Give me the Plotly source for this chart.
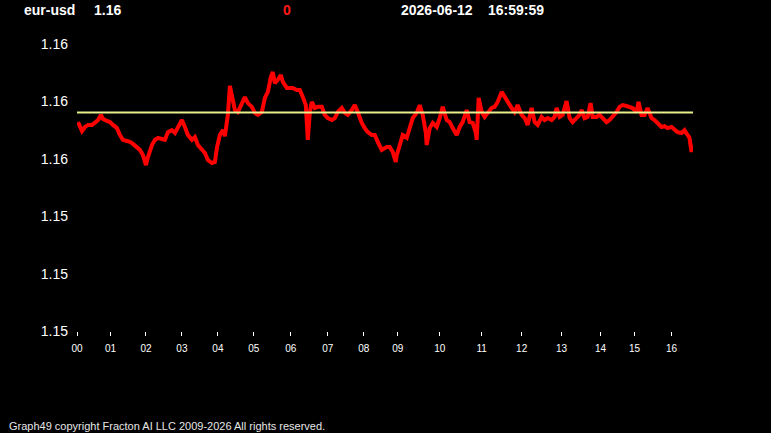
import plotly.graph_objects as go

# ---- data ----
symbol = "eur-usd"
last_price = "1.16"
change = "0"
stamp_date = "2026-06-12"
stamp_time = "16:59:59"
copyright_text = "Graph49 copyright Fracton AI LLC 2009-2026 All rights reserved."

seq = [1, 3, 5, 8, 11, 15, 18, 21, 24, 26, 30, 33, 36, 40, 43, 46, 50, 53, 56, 60,
       63, 66, 69, 71, 75, 78, 81, 85, 88, 91, 95, 98, 101, 105, 108, 111, 115, 118, 121, 125,
       128, 131, 135, 138, 140, 143, 146, 148, 150, 151, 153, 155, 158, 161, 165, 168, 171, 175, 178, 181,
       185, 188, 191, 194, 196, 198, 201, 204, 206, 210, 213, 216, 220, 223, 226, 229, 231, 233, 235, 238,
       241, 245, 248, 251, 255, 258, 261, 265, 268, 271, 275, 278, 281, 285, 288, 291, 295, 298, 301, 305,
       310, 313, 316, 319, 320, 323, 326, 330, 333, 336, 340, 343, 346, 349, 350, 353, 356, 360, 363, 366,
       370, 373, 376, 380, 383, 386, 390, 393, 396, 399, 400, 402, 405, 408, 411, 415, 418, 421, 425, 428,
       431, 435, 438, 441, 445, 448, 451, 455, 458, 461, 465, 468, 471, 475, 478, 480, 483, 486, 490, 493,
       496, 500, 503, 505, 508, 511, 514, 516, 520, 523, 526, 530, 533, 536, 540, 543, 546, 550, 553, 556,
       560, 562, 565, 568, 571, 575, 578, 581, 585, 588, 591, 595, 598, 601, 605, 608, 611, 613, 615, 616]

price = [1.15728, 1.15714, 1.15697, 1.15711, 1.15718, 1.15718, 1.15725, 1.15735, 1.15753, 1.15739,
         1.15732, 1.15728, 1.15718, 1.15707, 1.15683, 1.15666, 1.15662, 1.15659, 1.15652, 1.15641,
         1.15631, 1.15613, 1.15578, 1.15606, 1.15648, 1.15666, 1.15673, 1.15669, 1.15666, 1.15693,
         1.15700, 1.15690, 1.15711, 1.15735, 1.15711, 1.15683, 1.15666, 1.15676, 1.15648, 1.15631,
         1.15620, 1.15596, 1.15585, 1.15589, 1.15638, 1.15683, 1.15700, 1.15679, 1.15718, 1.15753,
         1.15854, 1.15812, 1.15770, 1.15763, 1.15798, 1.15815, 1.15794, 1.15781, 1.15760, 1.15753,
         1.15763, 1.15812, 1.15833, 1.15885, 1.15902, 1.15864, 1.15875, 1.15892, 1.15868, 1.15847,
         1.15847, 1.15847, 1.15840, 1.15840, 1.15815, 1.15787, 1.15666, 1.15763, 1.15798, 1.15777,
         1.15781, 1.15781, 1.15753, 1.15742, 1.15735, 1.15742, 1.15763, 1.15777, 1.15760, 1.15753,
         1.15770, 1.15787, 1.15763, 1.15725, 1.15707, 1.15693, 1.15683, 1.15683, 1.15659, 1.15631,
         1.15641, 1.15641, 1.15624, 1.15589, 1.15613, 1.15648, 1.15683, 1.15673, 1.15711, 1.15742,
         1.15760, 1.15787, 1.15753, 1.15693, 1.15648, 1.15707, 1.15725, 1.15711, 1.15742, 1.15781,
         1.15735, 1.15728, 1.15707, 1.15683, 1.15711, 1.15728, 1.15770, 1.15728, 1.15725, 1.15693,
         1.15666, 1.15812, 1.15763, 1.15746, 1.15760, 1.15777, 1.15781, 1.15798, 1.15833, 1.15815,
         1.15798, 1.15777, 1.15763, 1.15787, 1.15753, 1.15742, 1.15718, 1.15777, 1.15728, 1.15718,
         1.15746, 1.15735, 1.15742, 1.15735, 1.15746, 1.15777, 1.15746, 1.15753, 1.15801, 1.15742,
         1.15728, 1.15742, 1.15753, 1.15770, 1.15742, 1.15746, 1.15794, 1.15746, 1.15746, 1.15753,
         1.15742, 1.15728, 1.15735, 1.15746, 1.15763, 1.15781, 1.15787, 1.15784, 1.15781, 1.15777,
         1.15763, 1.15798, 1.15753, 1.15753, 1.15777, 1.15742, 1.15735, 1.15725, 1.15711, 1.15714,
         1.15707, 1.15711, 1.15700, 1.15693, 1.15690, 1.15700, 1.15683, 1.15673, 1.15624, 1.15648]

ref_level = 1.15761
ref_span = [0, 617]

hour_labels = ["00", "01", "02", "03", "04", "05", "06", "07", "08", "09",
               "10", "11", "12", "13", "14", "15", "16"]
hour_seq = [0, 33.5, 69, 105, 141, 177, 214, 251, 287, 321,
            363, 405, 445, 485, 524, 558, 595]

y_ticks = [1.150, 1.152, 1.154, 1.156, 1.158, 1.160]
y_range = [1.150, 1.160]
x_range = [0, 616.5]

# ---- layout geometry ----
W, H = 771, 433
ML, MR, MT, MB = 77, 77.5, 44, 102
PW, PH = W - ML - MR, H - MT - MB

def px_x(px):
    return (px - ML) / PW

def px_y(py):
    return (H - MB - py) / PH

FONT = "Liberation Sans, Arial, sans-serif"

fig = go.Figure()
fig.add_trace(go.Scatter(x=seq, y=price, mode="lines",
                         line=dict(color="#ff0000", width=4), hoverinfo="skip"))
fig.add_trace(go.Scatter(x=ref_span, y=[ref_level, ref_level], mode="lines",
                         line=dict(color="#e8f08c", width=2), hoverinfo="skip"))

annos = [
    (symbol, 22, "#ffffff"),
    (last_price, 92, "#ffffff"),
    (change, 281, "#ff1a1a"),
    (stamp_date, 399, "#ffffff"),
    (stamp_time, 486, "#ffffff"),
]
for txt, px, col in annos:
    fig.add_annotation(text="<b>" + txt + "</b>", xref="paper", yref="paper",
                       x=px_x(px), y=px_y(10), xanchor="left", yanchor="middle",
                       showarrow=False, font=dict(family=FONT, size=14, color=col))

fig.add_annotation(text=copyright_text, xref="paper", yref="paper",
                   x=px_x(7), y=px_y(426), xanchor="left", yanchor="middle",
                   showarrow=False, font=dict(family=FONT, size=11, color="#e6e6e6"))

fig.update_layout(
    width=W, height=H,
    margin=dict(l=ML, r=MR, t=MT, b=MB, pad=0),
    paper_bgcolor="#000000", plot_bgcolor="#000000",
    showlegend=False,
    xaxis=dict(range=x_range, tickvals=hour_seq, ticktext=hour_labels,
               showgrid=False, zeroline=False, showline=False,
               ticks="outside", ticklen=4, tickwidth=1, tickcolor="#ffffff",
               tickfont=dict(family=FONT, size=10, color="#ffffff"),
               ticklabelstandoff=4, fixedrange=True),
    yaxis=dict(range=y_range, tickvals=y_ticks, tickformat=".2f",
               showgrid=False, zeroline=False, showline=False,
               ticks="", tickfont=dict(family=FONT, size=14, color="#ffffff"),
               ticklabelstandoff=8, fixedrange=True),
)

fig.write_html("out.html", config={"displayModeBar": False})
